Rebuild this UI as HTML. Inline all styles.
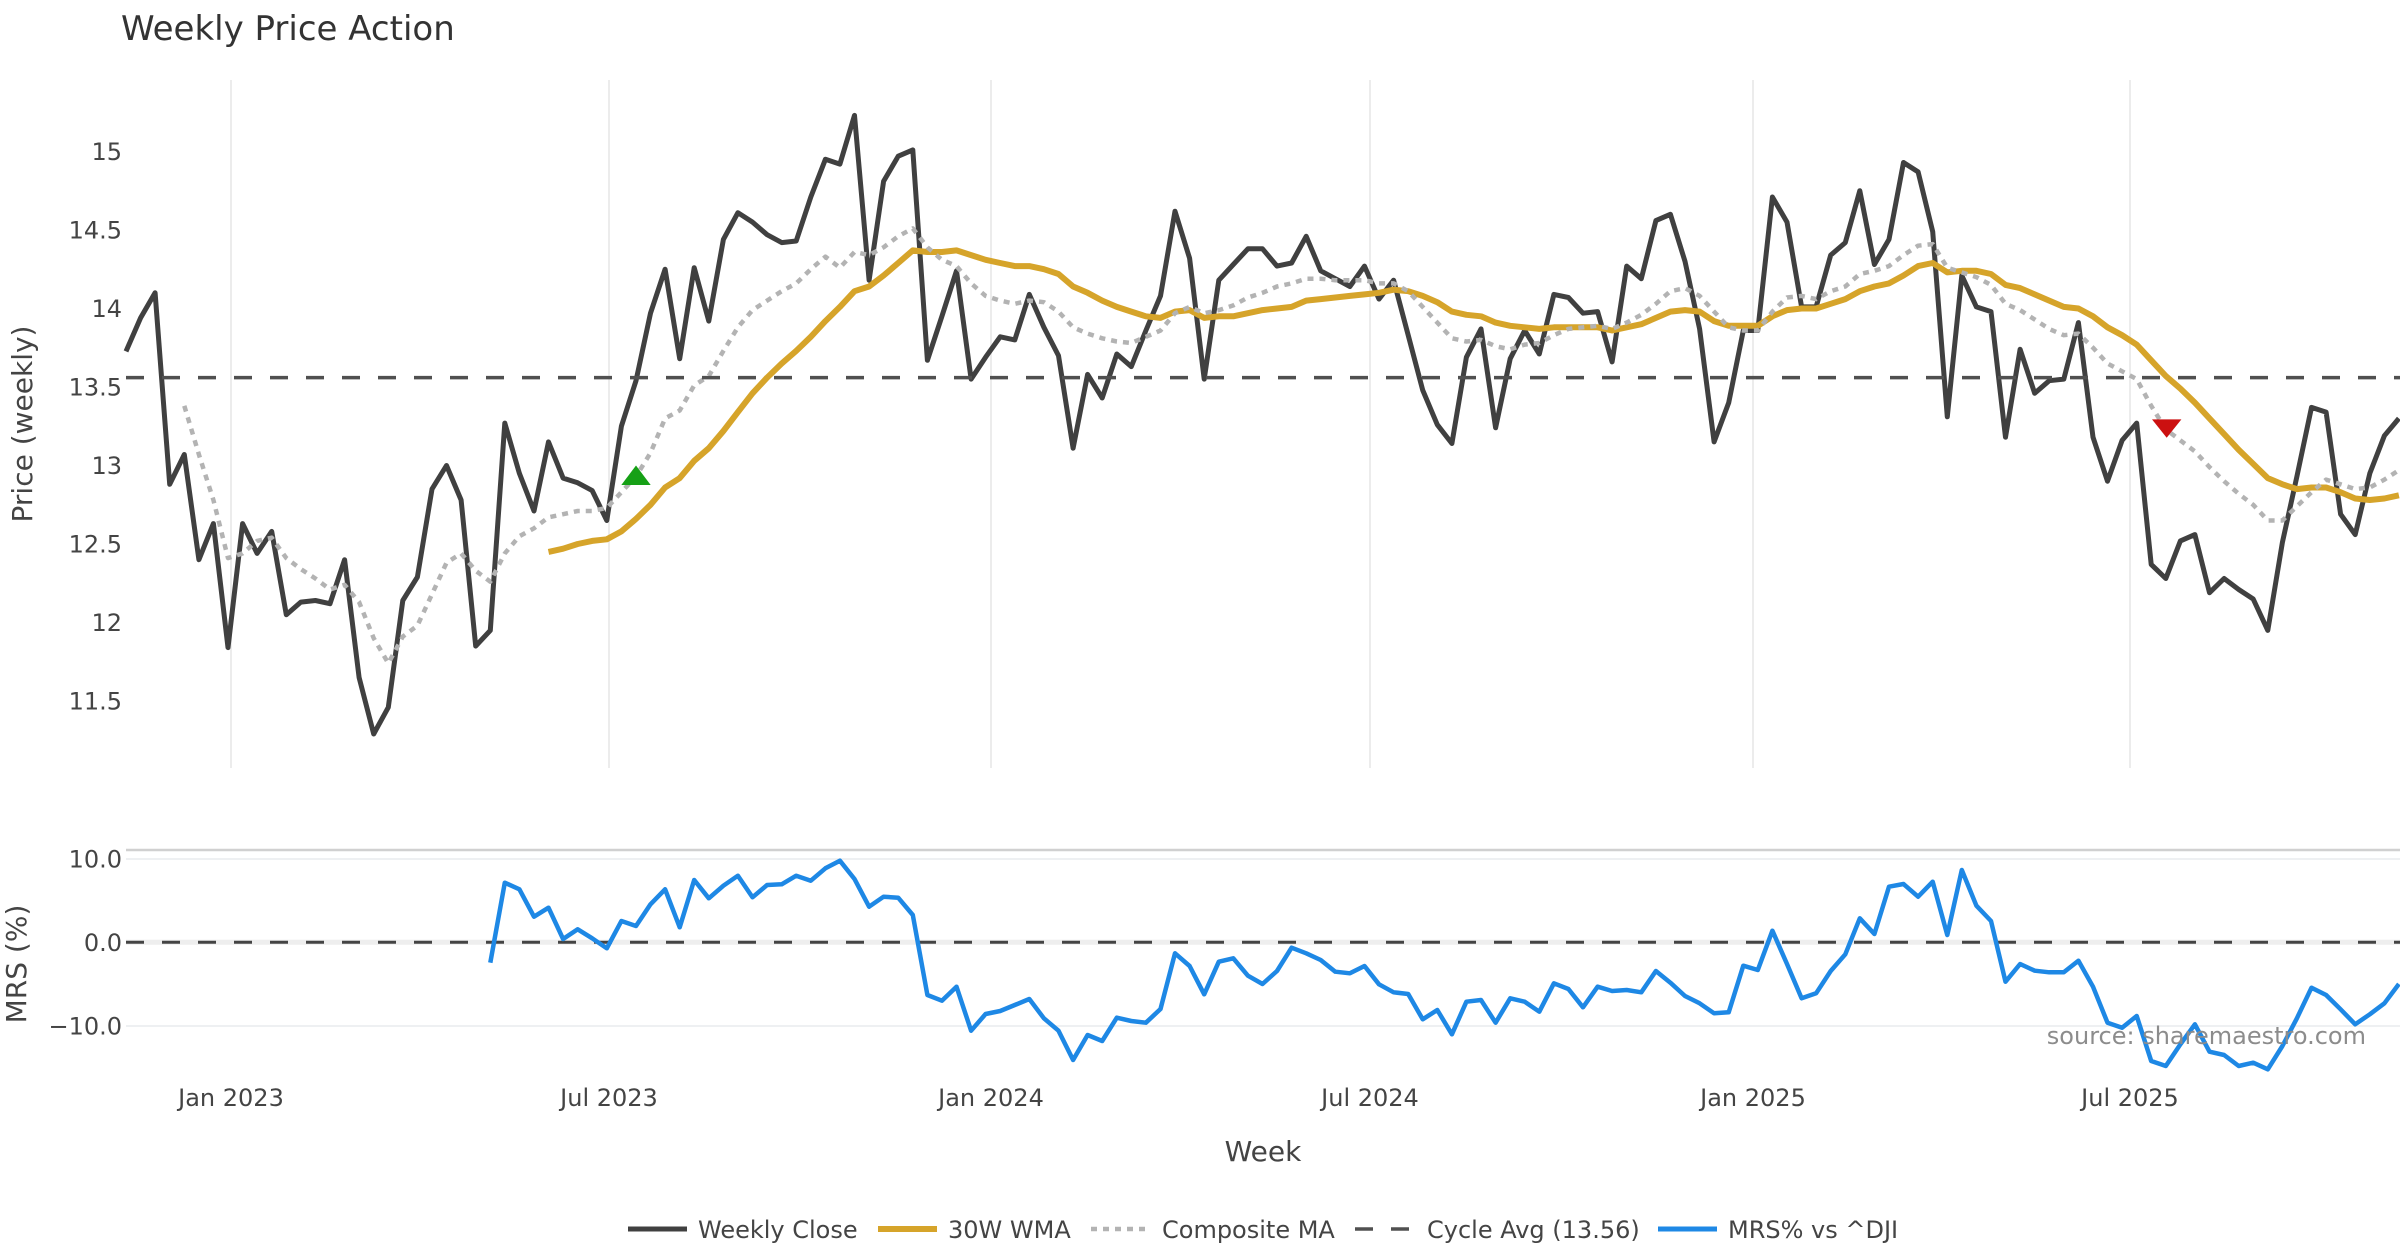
<!DOCTYPE html>
<html>
<head>
<meta charset="utf-8">
<style>
html,body{margin:0;padding:0;background:#fff;}
svg{display:block;}
text{font-family:"DejaVu Sans","Liberation Sans",sans-serif;}
</style>
</head>
<body>
<svg width="2400" height="1260" viewBox="0 0 2400 1260" xmlns="http://www.w3.org/2000/svg">
<rect x="0" y="0" width="2400" height="1260" fill="#fff"/>

<!-- title -->
<text x="121" y="40" font-size="34" fill="#333">Weekly Price Action</text>

<!-- top panel vertical gridlines -->
<g stroke="#ececec" stroke-width="2">
<line x1="231" y1="80" x2="231" y2="768"/>
<line x1="609" y1="80" x2="609" y2="768"/>
<line x1="991" y1="80" x2="991" y2="768"/>
<line x1="1370" y1="80" x2="1370" y2="768"/>
<line x1="1753" y1="80" x2="1753" y2="768"/>
<line x1="2130" y1="80" x2="2130" y2="768"/>
</g>

<!-- price tick labels -->
<g font-size="24" fill="#444" text-anchor="end">
<text x="122" y="160">15</text>
<text x="122" y="238.5">14.5</text>
<text x="122" y="317">14</text>
<text x="122" y="395.5">13.5</text>
<text x="122" y="474">13</text>
<text x="122" y="552.5">12.5</text>
<text x="122" y="631">12</text>
<text x="122" y="709.5">11.5</text>
</g>
<text transform="translate(32,424) rotate(-90)" text-anchor="middle" font-size="28" fill="#444">Price (weekly)</text>

<!-- weekly close -->
<polyline fill="none" stroke="#404040" stroke-width="5" stroke-linejoin="round" points="126,351.4 140.6,317.9 155.1,292.8 169.7,484.3 184.3,454.5 198.9,559.7 213.4,523.6 228,647.6 242.6,523.6 257.1,553.4 271.7,531.4 286.3,614.7 300.8,602.1 315.4,600.5 330,603.7 344.6,559.7 359.1,677.5 373.7,734 388.3,707.3 402.8,600.5 417.4,577 432,489.1 446.5,465.5 461.1,500 475.7,646.1 490.3,630.4 504.8,423.1 519.4,473.4 534,511 548.5,441.9 563.1,478.1 577.7,482.8 592.2,490.6 606.8,520.5 621.4,426.2 636,380.7 650.5,313.2 665.1,269.2 679.7,358.7 694.2,267.7 708.8,321.1 723.4,239.4 737.9,212.7 752.5,222.1 767.1,234.7 781.7,242.6 796.2,241 810.8,197 825.4,159.3 839.9,164.1 854.5,115.4 869.1,280.2 883.6,181.3 898.2,156.2 912.8,149.9 927.4,360.3 941.9,316.3 956.5,270.8 971.1,379.1 985.6,357.2 1000.2,336.8 1014.8,339.9 1029.3,294.4 1043.9,327.3 1058.5,355.6 1073.1,448.2 1087.6,374.4 1102.2,398 1116.8,354 1131.3,366.6 1145.9,330.5 1160.5,295.9 1175,211.2 1189.6,258.3 1204.2,379.1 1218.8,280.2 1233.3,264.5 1247.9,248.8 1262.5,248.8 1277,266.1 1291.6,263 1306.2,236.3 1320.7,270.8 1335.3,278.7 1349.9,286.5 1364.5,266.1 1379,299.1 1393.6,280.2 1408.2,335.2 1422.7,390.1 1437.3,424.7 1451.9,443.5 1466.4,357.2 1481,328.9 1495.6,427.8 1510.2,358.7 1524.7,330.5 1539.3,354 1553.9,294.4 1568.4,297.5 1583,313.2 1597.6,311.6 1612.1,361.9 1626.7,266.1 1641.3,278.7 1655.9,220.6 1670.4,214.3 1685,261.4 1699.6,328.9 1714.1,441.9 1728.7,402.7 1743.3,330.5 1757.8,330.5 1772.4,197 1787,222.1 1801.6,306.9 1816.1,306.9 1830.7,255.1 1845.3,242.6 1859.8,190.7 1874.4,264.5 1889,239.4 1903.5,162.5 1918.1,171.9 1932.7,231.6 1947.3,416.8 1961.8,275.5 1976.4,306.9 1991,311.6 2005.5,437.2 2020.1,349.3 2034.7,393.3 2049.2,380.7 2063.8,379.1 2078.4,322.6 2093,437.2 2107.5,481.2 2122.1,440.4 2136.7,423.1 2151.2,564.4 2165.8,578.5 2180.4,540.9 2194.9,534.6 2209.5,592.7 2224.1,578.5 2238.7,589.5 2253.2,599 2267.8,630.4 2282.4,542.4 2296.9,476.5 2311.5,407.4 2326.1,412.1 2340.6,514.2 2355.2,534.6 2369.8,473.4 2384.4,435.7 2398.9,418.4"/>

<!-- 30W WMA -->
<polyline fill="none" stroke="#D6A42A" stroke-width="6" stroke-linejoin="round" points="548.5,551.9 563.1,548.7 577.7,544 592.2,540.9 606.8,539.3 621.4,531.4 636,518.9 650.5,504.8 665.1,487.5 679.7,478.1 694.2,460.8 708.8,448.2 723.4,431 737.9,412.1 752.5,393.3 767.1,377.6 781.7,363.5 796.2,350.9 810.8,336.8 825.4,321.1 839.9,306.9 854.5,291.2 869.1,286.5 883.6,275.5 898.2,263 912.8,250.4 927.4,252 941.9,252 956.5,250.4 971.1,255.1 985.6,259.8 1000.2,263 1014.8,266.1 1029.3,266.1 1043.9,269.2 1058.5,274 1073.1,286.5 1087.6,292.8 1102.2,300.6 1116.8,306.9 1131.3,311.6 1145.9,316.3 1160.5,317.9 1175,311.6 1189.6,310.1 1204.2,317.9 1218.8,316.3 1233.3,316.3 1247.9,313.2 1262.5,310.1 1277,308.5 1291.6,306.9 1306.2,300.6 1320.7,299.1 1335.3,297.5 1349.9,295.9 1364.5,294.4 1379,292.8 1393.6,289.7 1408.2,291.2 1422.7,295.9 1437.3,302.2 1451.9,311.6 1466.4,314.8 1481,316.3 1495.6,322.6 1510.2,325.8 1524.7,327.3 1539.3,328.9 1553.9,327.3 1568.4,327.3 1583,327.3 1597.6,327.3 1612.1,330.5 1626.7,327.3 1641.3,324.2 1655.9,317.9 1670.4,311.6 1685,310.1 1699.6,311.6 1714.1,321.1 1728.7,325.8 1743.3,325.8 1757.8,325.8 1772.4,316.3 1787,310.1 1801.6,308.5 1816.1,308.5 1830.7,303.8 1845.3,299.1 1859.8,291.2 1874.4,286.5 1889,283.4 1903.5,275.5 1918.1,266.1 1932.7,263 1947.3,272.4 1961.8,270.8 1976.4,270.8 1991,274 2005.5,284.9 2020.1,288.1 2034.7,294.4 2049.2,300.6 2063.8,306.9 2078.4,308.5 2093,316.3 2107.5,327.3 2122.1,335.2 2136.7,344.6 2151.2,360.3 2165.8,376 2180.4,388.6 2194.9,402.7 2209.5,418.4 2224.1,434.1 2238.7,449.8 2253.2,463.9 2267.8,478.1 2282.4,484.3 2296.9,489.1 2311.5,487.5 2326.1,487.5 2340.6,492.2 2355.2,498.5 2369.8,500 2384.4,498.5 2398.9,495.3"/>

<!-- composite MA -->
<polyline fill="none" stroke="#b3b3b3" stroke-width="4.5" stroke-dasharray="6,6" stroke-linejoin="round" points="184.3,405.8 198.9,454.5 213.4,500 228,558.1 242.6,553.4 257.1,540.9 271.7,537.7 286.3,558.1 300.8,569.1 315.4,578.5 330,589.5 344.6,584.8 359.1,602.1 373.7,638.2 388.3,663.3 402.8,636.6 417.4,625.6 432,594.2 446.5,562.8 461.1,553.4 475.7,570.7 490.3,581.7 504.8,553.4 519.4,536.2 534,528.3 548.5,517.3 563.1,514.2 577.7,511 592.2,511 606.8,507.9 621.4,492.2 636,476.5 650.5,452.9 665.1,418.4 679.7,410.5 694.2,385.4 708.8,376 723.4,350.9 737.9,327.3 752.5,310.1 767.1,300.6 781.7,291.2 796.2,283.4 810.8,269.2 825.4,256.7 839.9,267.7 854.5,252 869.1,255.1 883.6,247.3 898.2,236.3 912.8,228.4 927.4,247.3 941.9,259.8 956.5,266.1 971.1,283.4 985.6,295.9 1000.2,300.6 1014.8,303.8 1029.3,300.6 1043.9,302.2 1058.5,311.6 1073.1,327.3 1087.6,333.6 1102.2,338.3 1116.8,341.5 1131.3,343 1145.9,336.8 1160.5,330.5 1175,313.2 1189.6,306.9 1204.2,313.2 1218.8,310.1 1233.3,305.4 1247.9,297.5 1262.5,292.8 1277,286.5 1291.6,283.4 1306.2,278.7 1320.7,278.7 1335.3,280.2 1349.9,280.2 1364.5,280.2 1379,283.4 1393.6,283.4 1408.2,291.2 1422.7,306.9 1437.3,322.6 1451.9,338.3 1466.4,341.5 1481,339.9 1495.6,346.2 1510.2,349.3 1524.7,344.6 1539.3,343 1553.9,335.2 1568.4,328.9 1583,327.3 1597.6,325.8 1612.1,328.9 1626.7,322.6 1641.3,314.8 1655.9,303.8 1670.4,291.2 1685,288.1 1699.6,295.9 1714.1,311.6 1728.7,327.3 1743.3,330.5 1757.8,330.5 1772.4,311.6 1787,297.5 1801.6,295.9 1816.1,299.1 1830.7,291.2 1845.3,286.5 1859.8,274 1874.4,270.8 1889,266.1 1903.5,255.1 1918.1,245.7 1932.7,244.1 1947.3,267.7 1961.8,272.4 1976.4,277.1 1991,284.9 2005.5,303.8 2020.1,310.1 2034.7,319.5 2049.2,328.9 2063.8,335.2 2078.4,333.6 2093,347.7 2107.5,363.5 2122.1,371.3 2136.7,379.1 2151.2,405.8 2165.8,429.4 2180.4,440.4 2194.9,451.4 2209.5,467.1 2224.1,481.2 2238.7,493.8 2253.2,504.8 2267.8,520.5 2282.4,520.5 2296.9,506.3 2311.5,492.2 2326.1,479.6 2340.6,484.3 2355.2,489.1 2369.8,487.5 2384.4,479.6 2398.9,470.2"/>

<!-- cycle avg -->
<line x1="126" y1="377.6" x2="2400" y2="377.6" stroke="#505050" stroke-width="3.5" stroke-dasharray="18,18"/>

<!-- markers -->
<polygon points="636,465.5 650.7,485 621.3,485" fill="#16a016"/>
<polygon points="2152,419.4 2181.4,419.4 2166.7,437.8" fill="#cc1010"/>

<!-- lower panel -->
<line x1="126" y1="850" x2="2400" y2="850" stroke="#d0d0d0" stroke-width="2.5"/>
<g stroke="#eef0f2" stroke-width="2">
<line x1="126" y1="859" x2="2400" y2="859"/>
<line x1="126" y1="1026" x2="2400" y2="1026"/>
</g>
<line x1="126" y1="942.3" x2="2400" y2="942.3" stroke="#eeeeee" stroke-width="5"/>
<line x1="126" y1="942.3" x2="2400" y2="942.3" stroke="#444" stroke-width="3" stroke-dasharray="18,18"/>

<g font-size="24" fill="#444" text-anchor="end">
<text x="122" y="867.5">10.0</text>
<text x="122" y="951">0.0</text>
<text x="122" y="1034.5">−10.0</text>
</g>
<text transform="translate(26,964) rotate(-90)" text-anchor="middle" font-size="28" fill="#444">MRS (%)</text>

<polyline fill="none" stroke="#1E88E5" stroke-width="4.5" stroke-linejoin="round" points="490.3,962.7 504.8,882.7 519.4,889.3 534,916.7 548.5,907.7 563.1,939 577.7,929.3 592.2,938.3 606.8,948.3 621.4,921 636,926 650.5,904.3 665.1,889.3 679.7,927.3 694.2,880 708.8,898.3 723.4,885.7 737.9,875.7 752.5,897.3 767.1,885 781.7,884.3 796.2,875.7 810.8,880.7 825.4,868.3 839.9,860.7 854.5,879 869.1,906.7 883.6,896.7 898.2,897.7 912.8,915 927.4,995 941.9,1000.7 956.5,986.7 971.1,1030.7 985.6,1014 1000.2,1011 1014.8,1005 1029.3,999 1043.9,1018.3 1058.5,1030.7 1073.1,1060 1087.6,1035 1102.2,1041 1116.8,1017.7 1131.3,1021 1145.9,1022.7 1160.5,1009 1175,953.3 1189.6,966 1204.2,994.3 1218.8,961.7 1233.3,958.3 1247.9,975.7 1262.5,984 1277,971 1291.6,947.7 1306.2,953.3 1320.7,960 1335.3,971.7 1349.9,973.3 1364.5,966 1379,984.3 1393.6,992.3 1408.2,994 1422.7,1019.3 1437.3,1010 1451.9,1034.3 1466.4,1001.7 1481,1000 1495.6,1022.7 1510.2,998.3 1524.7,1001.7 1539.3,1011.7 1553.9,983.3 1568.4,989 1583,1007.3 1597.6,986.7 1612.1,991 1626.7,990 1641.3,992.3 1655.9,971 1670.4,982.7 1685,996 1699.6,1003.3 1714.1,1013.3 1728.7,1012.3 1743.3,965.7 1757.8,970 1772.4,930.7 1787,964 1801.6,998.3 1816.1,993.3 1830.7,971 1845.3,954.3 1859.8,918.3 1874.4,934 1889,886.7 1903.5,884 1918.1,896.7 1932.7,881.7 1947.3,935 1961.8,870 1976.4,905.7 1991,921 2005.5,981.7 2020.1,964 2034.7,970.7 2049.2,972.3 2063.8,972.3 2078.4,960.7 2093,986.7 2107.5,1022.7 2122.1,1027.7 2136.7,1016 2151.2,1061 2165.8,1066 2180.4,1044.3 2194.9,1024.3 2209.5,1051.7 2224.1,1055 2238.7,1066 2253.2,1062.7 2267.8,1069.3 2282.4,1046 2296.9,1018.3 2311.5,987.7 2326.1,995 2340.6,1009.3 2355.2,1024.3 2369.8,1014.3 2384.4,1003.3 2398.9,984"/>

<text x="2366" y="1044" text-anchor="end" font-size="24" fill="#8c8c8c">source: sharemaestro.com</text>

<!-- x ticks -->
<g font-size="24" fill="#444" text-anchor="middle">
<text x="231" y="1106">Jan 2023</text>
<text x="609" y="1106">Jul 2023</text>
<text x="991" y="1106">Jan 2024</text>
<text x="1370" y="1106">Jul 2024</text>
<text x="1753" y="1106">Jan 2025</text>
<text x="2130" y="1106">Jul 2025</text>
</g>
<text x="1263" y="1161" text-anchor="middle" font-size="28" fill="#444">Week</text>

<!-- legend -->
<line x1="628" y1="1229" x2="687" y2="1229" stroke="#404040" stroke-width="5"/>
<text x="698" y="1238" font-size="24" fill="#444">Weekly Close</text>
<line x1="878" y1="1229" x2="937" y2="1229" stroke="#D6A42A" stroke-width="6"/>
<text x="948" y="1238" font-size="24" fill="#444">30W WMA</text>
<line x1="1091" y1="1229" x2="1146" y2="1229" stroke="#b3b3b3" stroke-width="4.5" stroke-dasharray="6,6"/>
<text x="1162" y="1238" font-size="24" fill="#444">Composite MA</text>
<line x1="1355" y1="1229" x2="1410" y2="1229" stroke="#505050" stroke-width="3.5" stroke-dasharray="18,18"/>
<text x="1427" y="1238" font-size="24" fill="#444">Cycle Avg (13.56)</text>
<line x1="1658" y1="1229" x2="1717" y2="1229" stroke="#1E88E5" stroke-width="5"/>
<text x="1728" y="1238" font-size="24" fill="#444">MRS% vs ^DJI</text>
</svg>
</body>
</html>
